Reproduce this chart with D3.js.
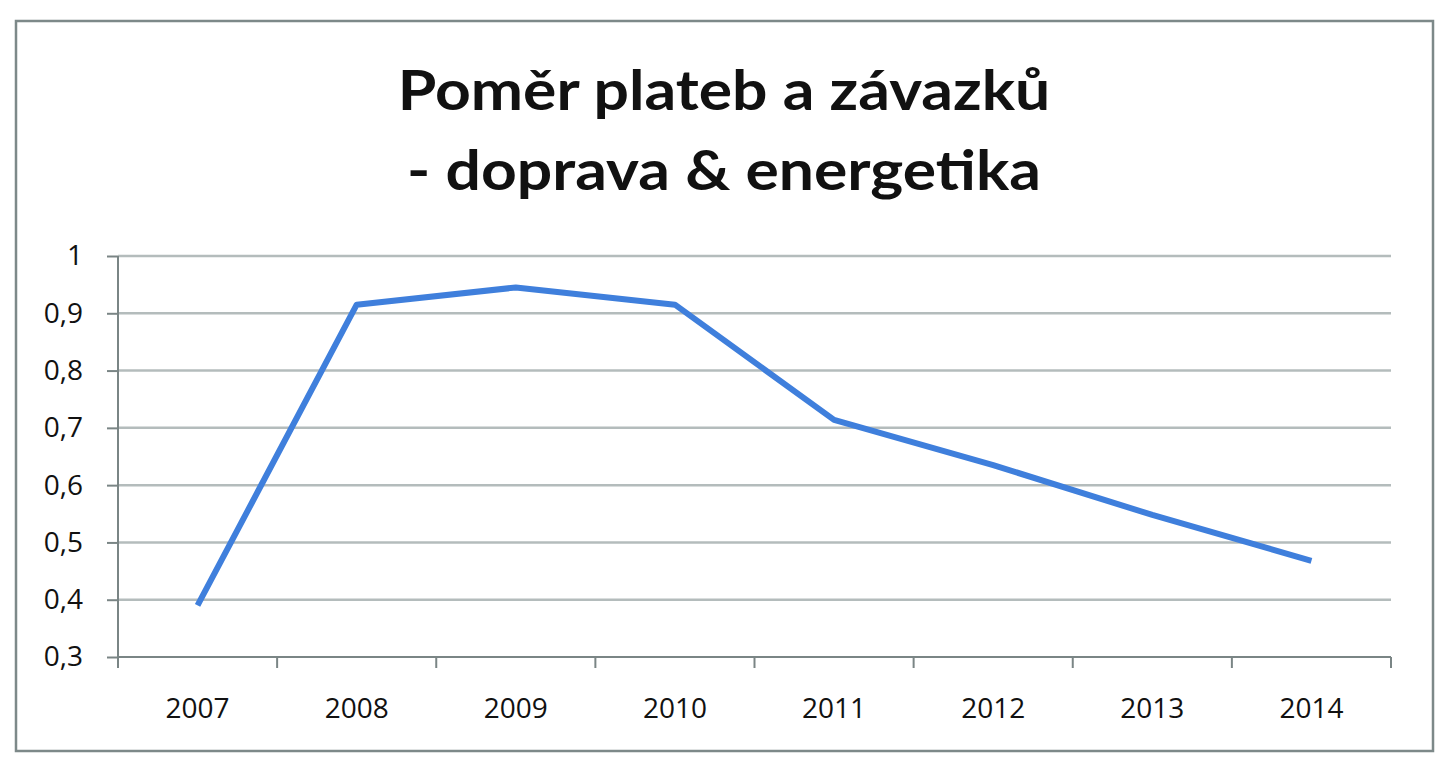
<!DOCTYPE html>
<html lang="cs">
<head>
    <meta charset="UTF-8">
    <title>Poměr plateb a závazků</title>
    <style>
        body{ margin:0; background:#fff; }
        .grid line{ stroke:#b4bcbc; stroke-width:2.5; }
        .axis path, .axis line{ stroke:#7a8585; stroke-width:2; fill:none; }
        .axis text{ font-family:"Open Sans", sans-serif; font-size:28px; fill:#111; }
        .title{ font-family:Lato, sans-serif; font-weight:bold; font-size:56px; fill:#111; text-anchor:middle; }
    </style>
    <script src="https://cdn.jsdelivr.net/npm/d3@7"></script>
</head>
<body>
<script>
    var years = ["2007","2008","2009","2010","2011","2012","2013","2014"];
    var ratio = [0.39,0.915,0.945,0.915,0.714,0.635,0.548,0.468];
    var yTicks = [0.3,0.4,0.5,0.6,0.7,0.8,0.9,1];
    var titleLines = ["Poměr plateb a závazků","- doprava & energetika"];

    var width = 1448, height = 764;
    var plot = {left:118, right:1391, top:256, bottom:657};

    var svg = d3.select("body").append("svg")
            .attr("width",width)
            .attr("height",height);

    //外框
    svg.append("rect")
            .attr("x",16).attr("y",21)
            .attr("width",1417).attr("height",730)
            .attr("fill","none")
            .attr("stroke","#7d8989")
            .attr("stroke-width",2.5);

    var xScale = d3.scaleBand()
            .domain(years)
            .range([plot.left,plot.right]);
    var yScale = d3.scaleLinear()
            .domain([0.3,1])
            .range([plot.bottom,plot.top]);

    //网格线
    svg.append("g")
            .attr("class","grid")
            .selectAll("line")
            .data(yTicks.slice(1))
            .enter()
            .append("line")
            .attr("x1",plot.left)
            .attr("x2",plot.right)
            .attr("y1",function(d){ return yScale(d); })
            .attr("y2",function(d){ return yScale(d); });

    //y轴
    var yAxis = d3.axisLeft(yScale)
            .tickValues(yTicks)
            .tickSize(11)
            .tickPadding(24)
            .tickFormat(function(d){ return d === 1 ? "1" : d3.format(".1f")(d).replace(".",","); });
    svg.append("g")
            .attr("class","axis")
            .attr("transform","translate(" + plot.left + ",0)")
            .call(yAxis)
            .call(function(g){ g.select(".domain").attr("d","M0," + plot.top + "V" + plot.bottom); });

    //x轴
    var xAxis = d3.axisBottom(xScale)
            .tickSize(0)
            .tickPadding(41);
    var gx = svg.append("g")
            .attr("class","axis")
            .attr("transform","translate(0," + plot.bottom + ")")
            .call(xAxis);
    gx.select(".domain").attr("d","M" + plot.left + ",0H" + plot.right);
    //刻度线在类别之间
    gx.selectAll(".sep")
            .data(years.concat(["end"]))
            .enter()
            .append("line")
            .attr("class","sep")
            .attr("x1",function(d,i){ return plot.left + i * xScale.step(); })
            .attr("x2",function(d,i){ return plot.left + i * xScale.step(); })
            .attr("y1",0)
            .attr("y2",11);

    //折线
    var line = d3.line()
            .x(function(d,i){ return xScale(years[i]) + xScale.bandwidth() / 2; })
            .y(function(d){ return yScale(d); });
    svg.append("path")
            .attr("d",line(ratio))
            .attr("fill","none")
            .attr("stroke","#3f7fdc")
            .attr("stroke-width",6)
            .attr("stroke-linejoin","round");

    //标题 (横向拉宽一点, 原图字体较宽)
    svg.append("g")
            .attr("transform","translate(724,0) scale(1.115,1)")
            .selectAll(".title")
            .data(titleLines)
            .enter()
            .append("text")
            .attr("class","title")
            .attr("x",0)
            .attr("y",function(d,i){ return 110 + i * 80; })
            .text(function(d){ return d; });
</script>
</body>
</html>
